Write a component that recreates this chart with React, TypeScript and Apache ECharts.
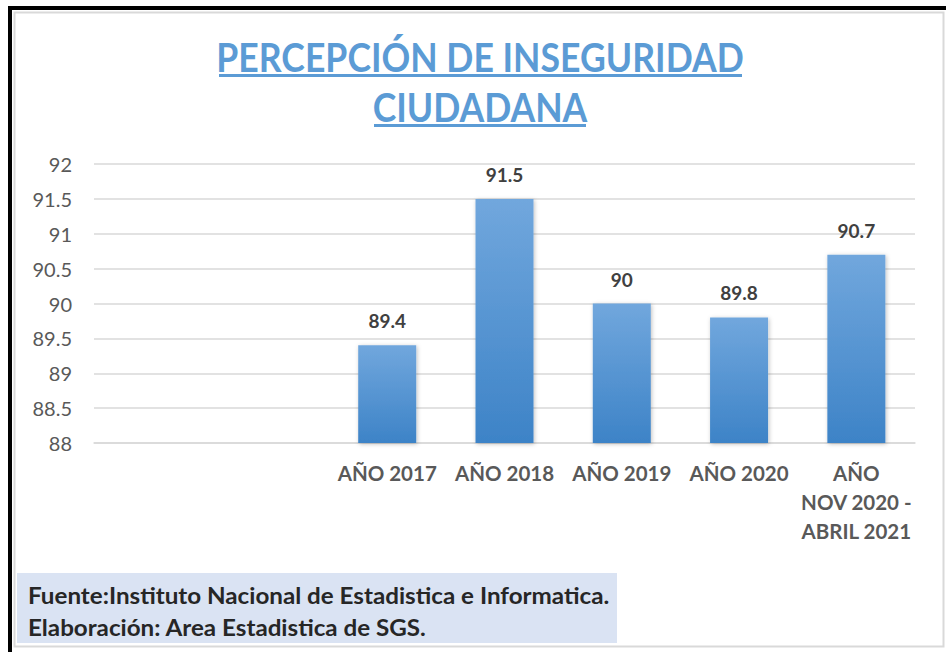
import React, { useEffect, useRef } from "react";
import * as echarts from "echarts";

const categories = ["", "", "AÑO 2017", "AÑO 2018", "AÑO 2019", "AÑO 2020", "AÑO\nNOV 2020 -\nABRIL 2021"];
const values: (number | string)[] = ["-", "-", 89.4, 91.5, 90, 89.8, 90.7];
const yMin = 88;
const yMax = 92;
const yStep = 0.5;
const titleLines = ["PERCEPCIÓN DE INSEGURIDAD", "CIUDADANA"];
const footLines = [
  "Fuente:Instituto Nacional de Estadistica e Informatica.",
  "Elaboración: Area Estadistica de SGS.",
];

const FONT = "Lato, 'Open Sans', sans-serif";

export default function App() {
  const ref = useRef<HTMLDivElement>(null);
  useEffect(() => {
    if (!ref.current) return;
    const chart = echarts.init(ref.current, null, { renderer: "svg" });
    chart.setOption({
      animation: false,
      backgroundColor: "#ffffff",
      textStyle: { fontFamily: FONT },
      grid: { left: 94, right: 31, top: 164, bottom: 209, containLabel: false },
      xAxis: {
        type: "category",
        data: categories,
        axisLine: { show: true, lineStyle: { color: "#d9d9d9", width: 1.5 } },
        axisTick: { show: false },
        axisLabel: {
          interval: 0,
          margin: 15,
          color: "#595959",
          fontWeight: "bold",
          fontSize: 20.5,
          lineHeight: 29,
          fontFamily: FONT,
        },
      },
      yAxis: {
        type: "value",
        min: yMin,
        max: yMax,
        interval: yStep,
        axisLine: { show: false },
        axisTick: { show: false },
        splitLine: { lineStyle: { color: "#d9d9d9", width: 1.5 } },
        axisLabel: {
          color: "#595959",
          fontSize: 20,
          margin: 22,
          fontFamily: FONT,
        },
      },
      series: [
        {
          type: "bar",
          data: values,
          barWidth: 58,
          itemStyle: {
            color: {
              type: "linear",
              x: 0,
              y: 0,
              x2: 0,
              y2: 1,
              colorStops: [
                { offset: 0, color: "#71a7dd" },
                { offset: 1, color: "#3d83c7" },
              ],
            },
            shadowBlur: 4,
            shadowColor: "rgba(0,0,0,0.25)",
            shadowOffsetX: 1,
            shadowOffsetY: 1,
          },
          label: {
            show: true,
            position: "top",
            distance: 15,
            color: "#404040",
            fontWeight: "bold",
            fontSize: 19,
            fontFamily: FONT,
          },
        },
      ],
      graphic: [
        { type: "rect", shape: { x: 8, y: 6, width: 938, height: 4 }, style: { fill: "#000000" }, z: 10 },
        { type: "rect", shape: { x: 8, y: 6, width: 4, height: 646 }, style: { fill: "#000000" }, z: 10 },
        {
          type: "rect",
          shape: { x: 14.5, y: 12.5, width: 929, height: 634 },
          style: { fill: "none", stroke: "#d9d9d9", lineWidth: 2 },
          z: 10,
        },
        {
          type: "text",
          x: 480,
          y: 57,
          scaleX: 0.89,
          style: {
            text: titleLines[0],
            fill: "#5b9bd5",
            font: `bold 40px ${FONT}`,
            textAlign: "center",
            textVerticalAlign: "middle",
          },
        },
        { type: "rect", shape: { x: 219, y: 74, width: 523, height: 3 }, style: { fill: "#5b9bd5" } },
        {
          type: "text",
          x: 480,
          y: 107,
          scaleX: 0.89,
          style: {
            text: titleLines[1],
            fill: "#5b9bd5",
            font: `bold 40px ${FONT}`,
            textAlign: "center",
            textVerticalAlign: "middle",
          },
        },
        { type: "rect", shape: { x: 374, y: 124, width: 212, height: 3 }, style: { fill: "#5b9bd5" } },
        { type: "rect", shape: { x: 17, y: 573, width: 600, height: 70 }, style: { fill: "#dae3f3" } },
        {
          type: "text",
          x: 28,
          y: 595,
          scaleX: 1.1,
          style: {
            text: footLines[0],
            fill: "#262626",
            font: `bold 22px ${FONT}`,
            textAlign: "left",
            textVerticalAlign: "middle",
          },
        },
        {
          type: "text",
          x: 28,
          y: 627,
          scaleX: 1.1,
          style: {
            text: footLines[1],
            fill: "#262626",
            font: `bold 22px ${FONT}`,
            textAlign: "left",
            textVerticalAlign: "middle",
          },
        },
      ],
    });
    return () => chart.dispose();
  }, []);
  return (
    <div
      ref={ref}
      style={{ position: "absolute", left: 0, top: 0, width: 946, height: 652 }}
    />
  );
}
